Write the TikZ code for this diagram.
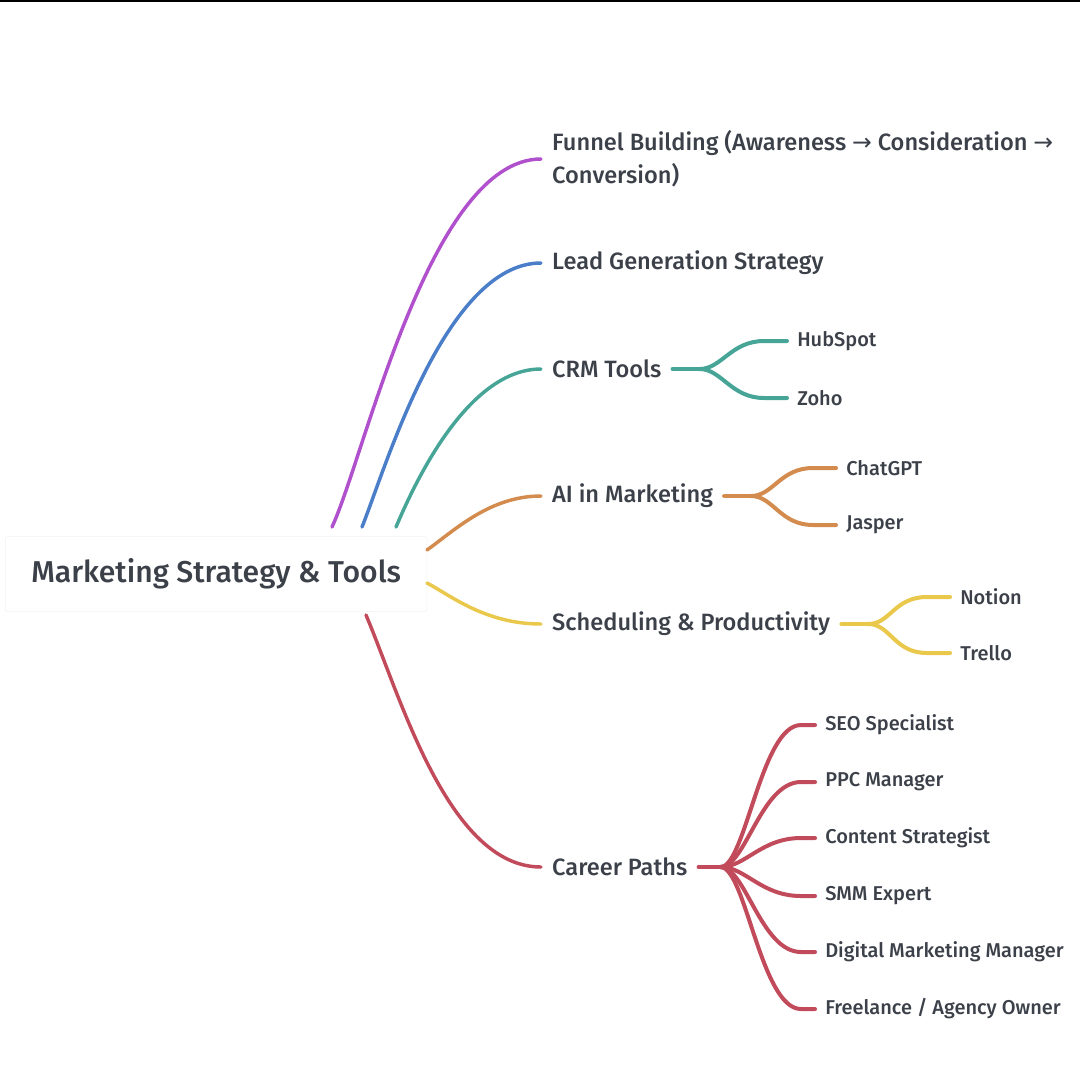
\documentclass[tikz,border=0pt]{standalone}
\usepackage{fontspec}
\setmainfont{Fira Sans}[UprightFont={* Medium}]
\newfontfamily\arrowfont{DejaVu Sans}
\usepackage{xcolor}
\usetikzlibrary{positioning,calc}
\definecolor{txt}{HTML}{3B4049}
\definecolor{cpurple}{HTML}{B050CC}
\definecolor{cblue}{HTML}{4A7EC8}
\definecolor{cteal}{HTML}{46A597}
\definecolor{corange}{HTML}{D38B4E}
\definecolor{cyellow}{HTML}{E9C84C}
\definecolor{cred}{HTML}{C14B5B}
\begin{document}
\begin{tikzpicture}[x=0.75pt,y=-0.75pt,
    branch/.style={line width=2.6pt,line cap=round},
    twig/.style={line width=3pt,line cap=round},
    rootbox/.style={anchor=west,fill=white,draw=black!5,rounded corners=1.5pt,inner xsep=19.5pt,minimum height=56pt,text=txt,font=\fontsize{22.6}{27}\selectfont},
    topic/.style={anchor=west,inner xsep=8.2pt,inner ysep=0pt,align=left,text=txt,font=\fontsize{17.7}{24.75}\selectfont},
    leaf/.style={anchor=west,inner xsep=7.5pt,inner ysep=0pt,text=txt,font=\fontsize{15}{18}\selectfont}]
    \useasboundingbox (0,0) rectangle (1080,1079);
    \draw[line width=1.5pt] (0,1) -- (1080,1);
    % root and main topics
    \node[rootbox] (root) at (5,574) {Marketing Strategy \& Tools};
    \node[topic] (funnel) at (541,159) {Funnel Building (Awareness {\arrowfont→} Consideration {\arrowfont→}\\Conversion)};
    \node[topic] (lead) at (541,263) {Lead Generation Strategy};
    \node[topic] (crm) at (541,369) {CRM Tools};
    \node[topic] (ai) at (541,496) {AI in Marketing};
    \node[topic] (sched) at (541,624) {Scheduling \& Productivity};
    \node[topic] (career) at (541,867) {Career Paths};
    % where the branches leave the root box
    \coordinate (s-funnel) at (332,527);
    \coordinate (s-lead) at (362,527);
    \coordinate (s-crm) at (396,527);
    \coordinate (s-ai) at (427,550);
    \coordinate (s-sched) at (427,583);
    \coordinate (s-career) at (366,615);
    \draw[branch, cpurple] (s-funnel) .. controls (365,456) and (430,159) .. (funnel.west);
    \draw[branch, cblue] (s-lead) .. controls (385,470) and (445,263) .. (lead.west);
    \draw[branch, cteal] (s-crm) .. controls (418,475) and (470,369) .. (crm.west);
    \draw[branch, corange] (s-ai) .. controls (455,530) and (490,496) .. (ai.west);
    \draw[branch, cyellow] (s-sched) .. controls (450,595) and (485,624) .. (sched.west);
    \draw[branch, cred] (s-career) .. controls (400,695) and (448,867) .. (career.west);
    % leaves
    \node[leaf] (hubspot) at (787,341) {HubSpot};
    \node[leaf] (zoho) at (787,398) {Zoho};
    \node[leaf] (chatgpt) at (836,468) {ChatGPT};
    \node[leaf] (jasper) at (836,525) {Jasper};
    \node[leaf] (notion) at (950,597) {Notion};
    \node[leaf] (trello) at (950,653) {Trello};
    \node[leaf] (seo) at (815,725) {SEO Specialist};
    \node[leaf] (ppc) at (815,782) {PPC Manager};
    \node[leaf] (content) at (815,838) {Content Strategist};
    \node[leaf] (smm) at (815,896) {SMM Expert};
    \node[leaf] (digital) at (815,952) {Digital Marketing Manager};
    \node[leaf] (freelance) at (815,1009) {Freelance / Agency Owner};
    % forks
    \draw[twig, cteal] (crm.east) -- ++(27,0) coordinate (j-crm);
    \draw[twig, cteal] (j-crm) .. controls +(22,0) and ($(hubspot.west)+(-56,0)$) .. ($(hubspot.west)+(-23,0)$) -- (hubspot.west);
    \draw[twig, cteal] (j-crm) .. controls +(22,0) and ($(zoho.west)+(-56,0)$) .. ($(zoho.west)+(-23,0)$) -- (zoho.west);
    \draw[twig, corange] (ai.east) -- ++(27,0) coordinate (j-ai);
    \draw[twig, corange] (j-ai) .. controls +(22,0) and ($(chatgpt.west)+(-56,0)$) .. ($(chatgpt.west)+(-23,0)$) -- (chatgpt.west);
    \draw[twig, corange] (j-ai) .. controls +(22,0) and ($(jasper.west)+(-56,0)$) .. ($(jasper.west)+(-23,0)$) -- (jasper.west);
    \draw[twig, cyellow] (sched.east) -- ++(27,0) coordinate (j-sched);
    \draw[twig, cyellow] (j-sched) .. controls +(22,0) and ($(notion.west)+(-56,0)$) .. ($(notion.west)+(-23,0)$) -- (notion.west);
    \draw[twig, cyellow] (j-sched) .. controls +(22,0) and ($(trello.west)+(-56,0)$) .. ($(trello.west)+(-23,0)$) -- (trello.west);
    \draw[twig, cred] (career.east) -- ++(22,0) coordinate (j-career);
    \draw[twig, cred] (j-career) .. controls +(25,0) and ($(seo.west)+(-54,0)$) .. ($(seo.west)+(-14,0)$) -- (seo.west);
    \draw[twig, cred] (j-career) .. controls +(25,0) and ($(ppc.west)+(-54,0)$) .. ($(ppc.west)+(-14,0)$) -- (ppc.west);
    \draw[twig, cred] (j-career) .. controls +(25,0) and ($(content.west)+(-54,0)$) .. ($(content.west)+(-14,0)$) -- (content.west);
    \draw[twig, cred] (j-career) .. controls +(25,0) and ($(smm.west)+(-54,0)$) .. ($(smm.west)+(-14,0)$) -- (smm.west);
    \draw[twig, cred] (j-career) .. controls +(25,0) and ($(digital.west)+(-54,0)$) .. ($(digital.west)+(-14,0)$) -- (digital.west);
    \draw[twig, cred] (j-career) .. controls +(25,0) and ($(freelance.west)+(-54,0)$) .. ($(freelance.west)+(-14,0)$) -- (freelance.west);
\end{tikzpicture}
\end{document}
